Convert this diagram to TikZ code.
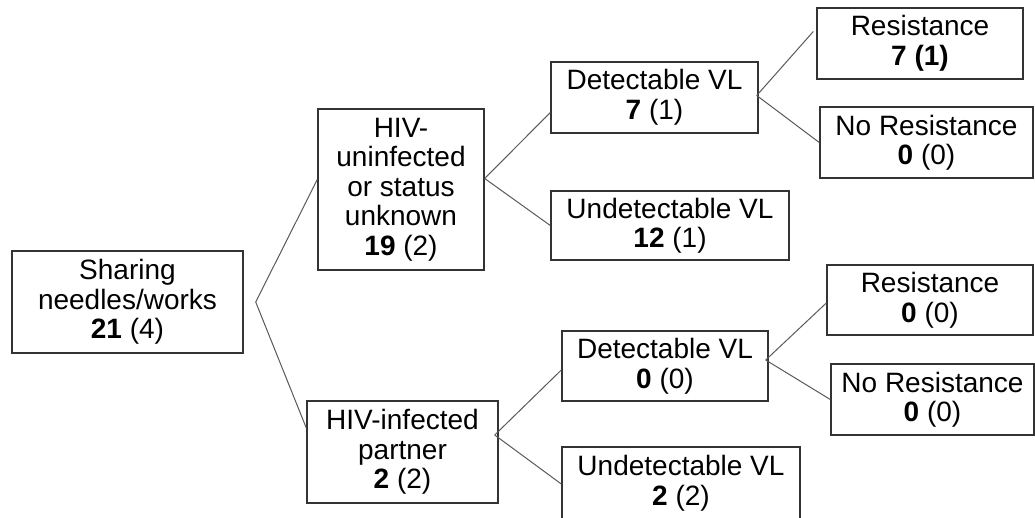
\documentclass[tikz,border=0pt]{standalone}
\usepackage{fontspec}
\setmainfont{Liberation Sans}
\usetikzlibrary{calc}

\begin{document}
\begin{tikzpicture}[x=1pt,y=-1pt,
		box/.style={draw=black!80,line width=1.4pt,align=center,inner sep=0pt,
			font=\fontsize{28}{29.5}\selectfont},
		branch/.style={draw=black!65,line width=1pt}]
		\useasboundingbox (0,0) rectangle (1035,517);
		\clip (0,0) rectangle (1035,517);
		% root
		\node[box,minimum width=231pt,minimum height=102pt] (share) at (127.5,302) {Sharing\\needles/works\\\textbf{21} (4)};
		% partner status
		\node[box,minimum width=166pt,minimum height=161pt] (uninf) at (401,189.5) {HIV-\\uninfected\\or status\\unknown\\\textbf{19} (2)};
		\node[box,minimum width=191pt,minimum height=102pt] (inf) at (402.5,452) {HIV-infected\\partner\\\textbf{2} (2)};
		% viral load
		\node[box,minimum width=207pt,minimum height=71pt] (detA) at (654.5,97.5) {Detectable VL\\\textbf{7} (1)};
		\node[box,minimum width=238pt,minimum height=69pt] (undetA) at (670,225.5) {Undetectable VL\\\textbf{12} (1)};
		\node[box,minimum width=206pt,minimum height=70pt] (detB) at (665,366) {Detectable VL\\\textbf{0} (0)};
		\node[box,minimum width=238pt,minimum height=72pt] (undetB) at (681,483) {Undetectable VL\\\textbf{2} (2)};
		% resistance
		\node[box,minimum width=206pt,minimum height=71pt] (resA) at (920,43.5) {Resistance\\\textbf{7 (1)}};
		\node[box,minimum width=213pt,minimum height=71pt] (noresA) at (926.5,142.5) {No Resistance\\\textbf{0} (0)};
		\node[box,minimum width=206pt,minimum height=70pt] (resB) at (930,300) {Resistance\\\textbf{0} (0)};
		\node[box,minimum width=203pt,minimum height=71pt] (noresB) at (932.5,399.5) {No Resistance\\\textbf{0} (0)};
		% branch points
		\coordinate (sharej) at ($(share.east)+(12,0)$);
		\coordinate (uninfj) at ($(uninf.east)+(0,-11)$);
		\coordinate (infj) at ($(inf.east)+(-4,-17)$);
		\coordinate (detAj) at ($(detA.east)+(-2,-2)$);
		\coordinate (detBj) at ($(detB.east)+(-3,-6)$);
		% branches
		\draw[branch] (sharej) -- ($(uninf.west)+(0,-10)$);
		\draw[branch] (sharej) -- ($(inf.west)+(0,-24)$);
		\draw[branch] (uninfj) -- ($(detA.west)+(0,15)$);
		\draw[branch] (uninfj) -- (undetA.west);
		\draw[branch] (detAj) -- ($(resA.west)+(-3,-12)$);
		\draw[branch] (detAj) -- (noresA.west);
		\draw[branch] (infj) -- ($(detB.west)+(0,4)$);
		\draw[branch] (infj) -- ($(undetB.west)+(0,1)$);
		\draw[branch] (detBj) -- ($(resB.west)+(0,3)$);
		\draw[branch] (detBj) -- (noresB.west);
	\end{tikzpicture}
\end{document}
